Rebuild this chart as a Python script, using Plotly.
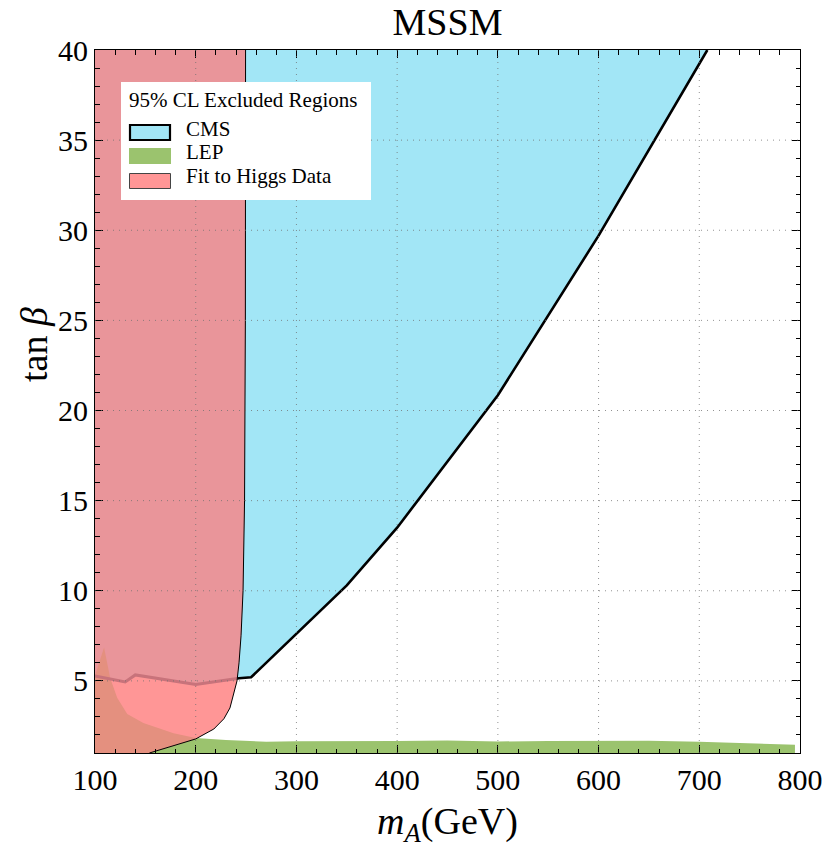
import numpy as np
import plotly.graph_objects as go

# ---------------- data ----------------
# CMS exclusion boundary (m_A, tan beta)
cms_x = [100, 130, 140, 200, 243, 255, 300, 350, 400, 450, 500, 600, 700, 708]
cms_y = [5.28, 4.94, 5.33, 4.80, 5.15, 5.20, 7.6, 10.3, 13.5, 17.2, 20.85, 29.7, 39.3, 40.0]

# Fit to Higgs data boundary (excluded region lies to the left)
higgs_x = [154, 175, 200, 218, 228, 234, 238, 241, 243, 245, 247, 248.5, 249.3, 249.5]
higgs_y = [1.0, 1.35, 1.78, 2.33, 2.9, 3.5, 4.28, 5.0, 6.0, 7.5, 10.0, 15.0, 25.0, 40.0]

# LEP exclusion upper edge
lep_x = [100, 109, 115, 122, 132, 148, 178, 200, 230, 270, 300, 350, 400, 450, 500, 550, 600, 650, 700, 750, 795]
lep_y = [5.3, 6.85, 5.17, 4.06, 3.17, 2.67, 2.1, 1.83, 1.72, 1.62, 1.65, 1.64, 1.66, 1.7, 1.64, 1.66, 1.68, 1.68, 1.62, 1.54, 1.46]

x_ticks = [100, 200, 300, 400, 500, 600, 700, 800]
y_ticks = [5, 10, 15, 20, 25, 30, 35, 40]
x_range = [100, 800]
y_range = [1, 40]

# ---------------- colours ----------------
C_BLUE = "#A2E6F6"
C_GREEN = "#9BC36E"
C_PINK = "#FF9696"
C_PINK_UP = "#E9959A"
C_ORANGE = "#E4907F"
C_DARKLINE = "#C8737B"

# ---------------- derived polygons ----------------
cx = np.array(cms_x, float); cy = np.array(cms_y, float)
hx = np.array(higgs_x, float); hy = np.array(higgs_y, float)
lx = np.array(lep_x, float); ly = np.array(lep_y, float)

# intersection of CMS line with Higgs boundary
xs = np.linspace(100, 260, 4000)
cys = np.interp(xs, cx, cy)
hxs = np.interp(cys, hy, hx)
i = int(np.argmax(xs >= hxs))
xi_c, yi_c = xs[i], cys[i]

# intersection of LEP edge with Higgs boundary
xs2 = np.linspace(hx[0], 241, 4000)
lys = np.interp(xs2, lx, ly)
hys = np.interp(xs2, hx, hy)
j = int(np.argmax(lys <= hys))
xi_l, yi_l = xs2[j], lys[j]

fig = go.Figure()

def poly(xv, yv, color):
    fig.add_trace(go.Scatter(x=list(xv), y=list(yv), mode="lines", fill="toself",
                             fillcolor=color, line=dict(width=0), hoverinfo="skip",
                             showlegend=False))

# CMS region
poly(list(cx) + [100], list(cy) + [40], C_BLUE)
# LEP region
poly(list(lx) + [lx[-1], 100], list(ly) + [1, 1], C_GREEN)
# Higgs fit region (full)
poly([100] + list(hx) + [100], [1] + list(hy) + [40], C_PINK)
# Higgs fit region overlapping CMS
m1 = cx < xi_c
m2 = hy > yi_c
poly(list(cx[m1]) + [xi_c] + list(hx[m2]) + [100],
     list(cy[m1]) + [yi_c] + list(hy[m2]) + [40], C_PINK_UP)
# Higgs fit region overlapping LEP
m3 = lx < xi_l
m4 = hx < xi_l
poly([100] + list(lx[m3]) + [xi_l] + list(hx[m4][::-1]),
     [1] + list(ly[m3]) + [yi_l] + list(hy[m4][::-1]), C_ORANGE)

# CMS boundary line: inside pink region (seen through) and outside (black)
fig.add_trace(go.Scatter(x=list(cx[m1]) + [xi_c], y=list(cy[m1]) + [yi_c], mode="lines",
                         line=dict(color=C_DARKLINE, width=3), hoverinfo="skip", showlegend=False))
fig.add_trace(go.Scatter(x=[xi_c] + list(cx[~m1]), y=[yi_c] + list(cy[~m1]), mode="lines",
                         line=dict(color="black", width=2.6), hoverinfo="skip", showlegend=False))
# Higgs boundary line
fig.add_trace(go.Scatter(x=hx, y=hy, mode="lines", line=dict(color="black", width=1),
                         hoverinfo="skip", showlegend=False))

# ---------------- layout ----------------
W, H = 829, 848
L, R, T, B = 95, 800, 50, 753

def px(x):
    return (x - L) / (R - L)

def py(y):
    return (B - y) / (B - T)

GRID = dict(color="rgba(110,110,110,0.75)", width=1, dash="1px,5px")
shapes = []
# dotted grid drawn above fills
for xv in x_ticks[1:-1]:
    shapes.append(dict(type="line", xref="x", yref="paper", x0=xv, x1=xv, y0=0, y1=1,
                       line=GRID, layer="above"))
for yv in y_ticks[:-1]:
    shapes.append(dict(type="line", xref="paper", yref="y", x0=0, x1=1, y0=yv, y1=yv,
                       line=GRID, layer="above"))

# legend box
shapes.append(dict(type="rect", xref="paper", yref="paper", x0=px(121), x1=px(371), y0=py(200), y1=py(82),
                   fillcolor="white", line=dict(width=0), layer="above"))
shapes.append(dict(type="rect", xref="paper", yref="paper", x0=px(130), x1=px(170), y0=py(140), y1=py(125),
                   fillcolor=C_BLUE, line=dict(color="black", width=2.2), layer="above"))
shapes.append(dict(type="rect", xref="paper", yref="paper", x0=px(129), x1=px(171), y0=py(164), y1=py(148),
                   fillcolor=C_GREEN, line=dict(width=0), layer="above"))
shapes.append(dict(type="rect", xref="paper", yref="paper", x0=px(129.5), x1=px(170.5), y0=py(188.5), y1=py(173.5),
                   fillcolor=C_PINK, line=dict(color="#444444", width=1), layer="above"))

FONT = "Liberation Serif, Times New Roman, serif"
LEG_FS = 21
annotations = [
    dict(text="95% CL Excluded Regions", x=px(127), y=py(100), xref="paper", yref="paper",
         xanchor="left", yanchor="middle", showarrow=False, font=dict(family=FONT, size=LEG_FS, color="black")),
    dict(text="CMS", x=px(184), y=py(129), xref="paper", yref="paper",
         xanchor="left", yanchor="middle", showarrow=False, font=dict(family=FONT, size=LEG_FS, color="black")),
    dict(text="LEP", x=px(184), y=py(152), xref="paper", yref="paper",
         xanchor="left", yanchor="middle", showarrow=False, font=dict(family=FONT, size=LEG_FS, color="black")),
    dict(text="Fit to Higgs Data", x=px(184), y=py(176), xref="paper", yref="paper",
         xanchor="left", yanchor="middle", showarrow=False, font=dict(family=FONT, size=LEG_FS, color="black")),
    # y-axis title
    dict(text="tan <i>β</i>", x=px(34), y=py(345), xref="paper", yref="paper", textangle=-90,
         xanchor="center", yanchor="middle", showarrow=False, font=dict(family=FONT, size=38, color="black")),
]

axis_common = dict(
    showgrid=False, zeroline=False, showline=True, linecolor="black", linewidth=1,
    mirror="ticks", ticks="inside", ticklen=8, tickwidth=1, tickcolor="black",
    tickfont=dict(family=FONT, size=30, color="black"), automargin=False,
)

fig.update_layout(
    width=W, height=H,
    margin=dict(l=L, r=W - R, t=T, b=H - B, autoexpand=False),
    paper_bgcolor="white", plot_bgcolor="white",
    showlegend=False,
    title=dict(text="MSSM", x=0.5, xref="paper", xanchor="center", y=1 - 22 / H, yref="container",
               yanchor="middle", font=dict(family=FONT, size=38, color="black")),
    xaxis=dict(range=x_range, tickvals=x_ticks, ticktext=[str(v) for v in x_ticks],
               minor=dict(dtick=20, tick0=100, ticks="inside", ticklen=4.5, tickcolor="black", showgrid=False),
               title=dict(text="<i>m</i><sub><i>A</i></sub>(GeV)", font=dict(family=FONT, size=38, color="black"),
                          standoff=14),
               **axis_common),
    yaxis=dict(range=y_range, tickvals=y_ticks, ticktext=[str(v) for v in y_ticks],
               minor=dict(dtick=1, tick0=0, ticks="inside", ticklen=4.5, tickcolor="black", showgrid=False),
               **axis_common),
    shapes=shapes,
    annotations=annotations,
)

fig.write_html("out.html", config={"displayModeBar": False},
               post_script="document.body.style.margin='0';document.body.style.overflow='hidden';")
